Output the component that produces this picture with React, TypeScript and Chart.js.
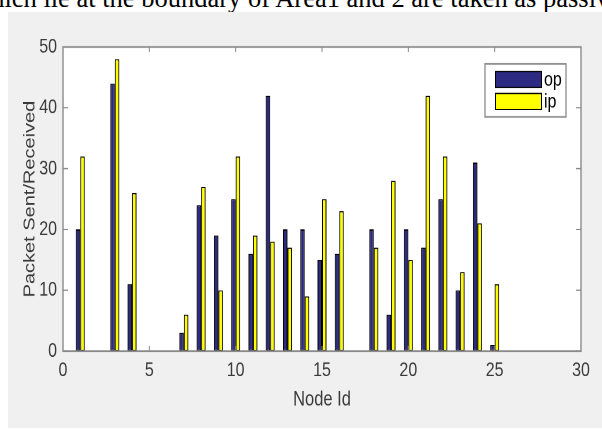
import React, { useEffect, useRef } from 'react';
import { Chart, registerables } from 'chart.js';

Chart.register(...registerables);

const nodes = [1, 2, 3, 4, 5, 6, 7, 8, 9, 10, 11, 12, 13, 14, 15, 16, 17, 18, 19, 20, 21, 22, 23, 24, 25];
const opValues = [20, 0, 44, 11, 0, 0, 3, 24, 19, 25, 16, 42, 20, 20, 15, 16, 0, 20, 6, 20, 17, 25, 10, 31, 1];
const ipValues = [32, 0, 48, 26, 0, 0, 6, 27, 10, 32, 19, 18, 17, 9, 25, 23, 0, 17, 28, 15, 42, 32, 13, 21, 11];
const seriesLabels = ['op', 'ip'];
const xTicks = [0, 5, 10, 15, 20, 25, 30];
const yTicks = [0, 10, 20, 30, 40, 50];
const xTitle = 'Node Id';
const yTitle = 'Packet Sent/Received';
const topLine = 'which lie at the boundary of Area1 and 2 are taken as passive nodes';

const OP_COLOR = '#2d2a82';
const IP_COLOR = '#ffff00';
const AXIS_COLOR = '#8a8a8a';
const TEXT_COLOR = '#3a3a3a';
const FONT = "'Liberation Sans', Arial, sans-serif";

// The reference figure is vertically stretched; the canvas is drawn at a
// shorter logical height and stretched with CSS to the panel height.
const PANEL_W = 594;
const PANEL_H = 416;
const LOGICAL_H = 333;
const STRETCH = PANEL_H / LOGICAL_H;

const framePlugin = {
  id: 'matlabFrame',
  beforeDraw(chart: any) {
    const { ctx, chartArea } = chart;
    ctx.save();
    ctx.fillStyle = '#ffffff';
    ctx.fillRect(chartArea.left, chartArea.top, chartArea.right - chartArea.left, chartArea.bottom - chartArea.top);
    ctx.restore();
  },
  afterDatasetsDraw(chart: any) {
    const { ctx, chartArea, scales } = chart;
    const { left, right, top, bottom } = chartArea;
    const xs = scales.x;
    const ys = scales.y;
    ctx.save();
    ctx.strokeStyle = AXIS_COLOR;
    ctx.lineWidth = 1.4;
    ctx.strokeRect(left, top, right - left, bottom - top);
    ctx.lineWidth = 1;
    const tlx = 4;
    const tly = 5;
    ctx.beginPath();
    xs.ticks.forEach((t: any) => {
      const px = xs.getPixelForValue(t.value);
      ctx.moveTo(px, bottom);
      ctx.lineTo(px, bottom - tlx);
      ctx.moveTo(px, top);
      ctx.lineTo(px, top + tlx);
    });
    ys.ticks.forEach((t: any) => {
      const py = ys.getPixelForValue(t.value);
      ctx.moveTo(left, py);
      ctx.lineTo(left + tly, py);
      ctx.moveTo(right, py);
      ctx.lineTo(right - tly, py);
    });
    ctx.stroke();

    // legend box (MATLAB style, inside the axes, north-east)
    const bw = 81;
    const bh = 42.4;
    const bx = right - 96;
    const by = top + 13.6;
    ctx.fillStyle = '#ffffff';
    ctx.fillRect(bx, by, bw, bh);
    ctx.strokeStyle = '#8a8a8a';
    ctx.lineWidth = 1.3;
    ctx.strokeRect(bx, by, bw, bh);
    const colors = [OP_COLOR, IP_COLOR];
    chart.data.datasets.forEach((ds: any, i: number) => {
      const sy = by + 5.6 + i * 17.6;
      ctx.fillStyle = colors[i];
      ctx.fillRect(bx + 10, sy, 47, 13.6);
      ctx.strokeStyle = '#000000';
      ctx.lineWidth = 1;
      ctx.strokeRect(bx + 10.5, sy + 0.4, 46, 12.8);
      ctx.fillStyle = '#000000';
      ctx.font = `16px ${FONT}`;
      ctx.textBaseline = 'middle';
      ctx.textAlign = 'left';
      ctx.fillText(ds.label, bx + 59, sy + 7.4);
    });
    ctx.restore();
  },
};

export default function App() {
  const canvasRef = useRef<HTMLCanvasElement | null>(null);

  useEffect(() => {
    const canvas = canvasRef.current;
    if (!canvas) return;
    const chart = new Chart(canvas, {
      type: 'bar',
      data: {
        datasets: [
          {
            label: seriesLabels[0],
            data: nodes.map((n, i) => ({ x: n, y: opValues[i] })),
            backgroundColor: OP_COLOR,
            borderColor: '#000000',
            borderWidth: 1,
            borderSkipped: false,
          },
          {
            label: seriesLabels[1],
            data: nodes.map((n, i) => ({ x: n, y: ipValues[i] })),
            backgroundColor: IP_COLOR,
            borderColor: '#000000',
            borderWidth: 1,
            borderSkipped: false,
          },
        ],
      },
      options: {
        animation: false,
        responsive: false,
        maintainAspectRatio: false,
        devicePixelRatio: 2,
        categoryPercentage: 0.52,
        barPercentage: 1,
        layout: { padding: { left: 0, top: 28, right: 21, bottom: 0 } },
        plugins: {
          legend: { display: false },
          tooltip: { enabled: false },
        },
        scales: {
          x: {
            type: 'linear',
            min: 0,
            max: 30,
            offset: false,
            afterBuildTicks: (scale: any) => {
              scale.ticks = xTicks.map((v) => ({ value: v }));
            },
            afterFit: (scale: any) => {
              scale.height = 61.6;
            },
            grid: { display: false, drawTicks: false, offset: false },
            border: { display: false },
            ticks: {
              padding: 6,
              color: TEXT_COLOR,
              font: { family: FONT, size: 16 },
              maxRotation: 0,
            },
            title: {
              display: true,
              text: xTitle,
              color: TEXT_COLOR,
              font: { family: FONT, size: 16.5 },
              padding: { top: 0, bottom: 12.5 },
            },
          },
          y: {
            type: 'linear',
            min: 0,
            max: 50,
            afterBuildTicks: (scale: any) => {
              scale.ticks = yTicks.map((v) => ({ value: v }));
            },
            afterFit: (scale: any) => {
              scale.width = 55;
            },
            grid: { display: false, drawTicks: false },
            border: { display: false },
            ticks: {
              padding: 6,
              color: TEXT_COLOR,
              font: { family: FONT, size: 16 },
            },
            title: {
              display: true,
              text: yTitle,
              color: TEXT_COLOR,
              font: { family: FONT, size: 16 },
              padding: { top: 12.4, bottom: 0 },
            },
          },
        },
      },
      plugins: [framePlugin],
    } as any);
    return () => {
      chart.destroy();
    };
  }, []);

  return (
    <div
      style={{
        position: 'fixed',
        left: 0,
        top: 0,
        width: 602,
        height: 430,
        background: '#ffffff',
        overflow: 'hidden',
      }}
    >
      <div
        style={{
          position: 'absolute',
          left: -28,
          top: -15.5,
          whiteSpace: 'nowrap',
          fontFamily: "'Liberation Serif', 'Times New Roman', serif",
          fontSize: 26.5,
          lineHeight: '27px',
          color: '#000',
        }}
      >
        {topLine}
      </div>
      <div
        style={{
          position: 'absolute',
          left: 8,
          top: 12,
          width: PANEL_W,
          height: PANEL_H,
          background: '#f0f0f0',
          overflow: 'hidden',
        }}
      >
        <canvas
          ref={canvasRef}
          width={PANEL_W}
          height={LOGICAL_H}
          style={{
            display: 'block',
            width: PANEL_W,
            height: LOGICAL_H,
            transform: `scaleY(${STRETCH})`,
            transformOrigin: '0 0',
          }}
        />
      </div>
    </div>
  );
}
